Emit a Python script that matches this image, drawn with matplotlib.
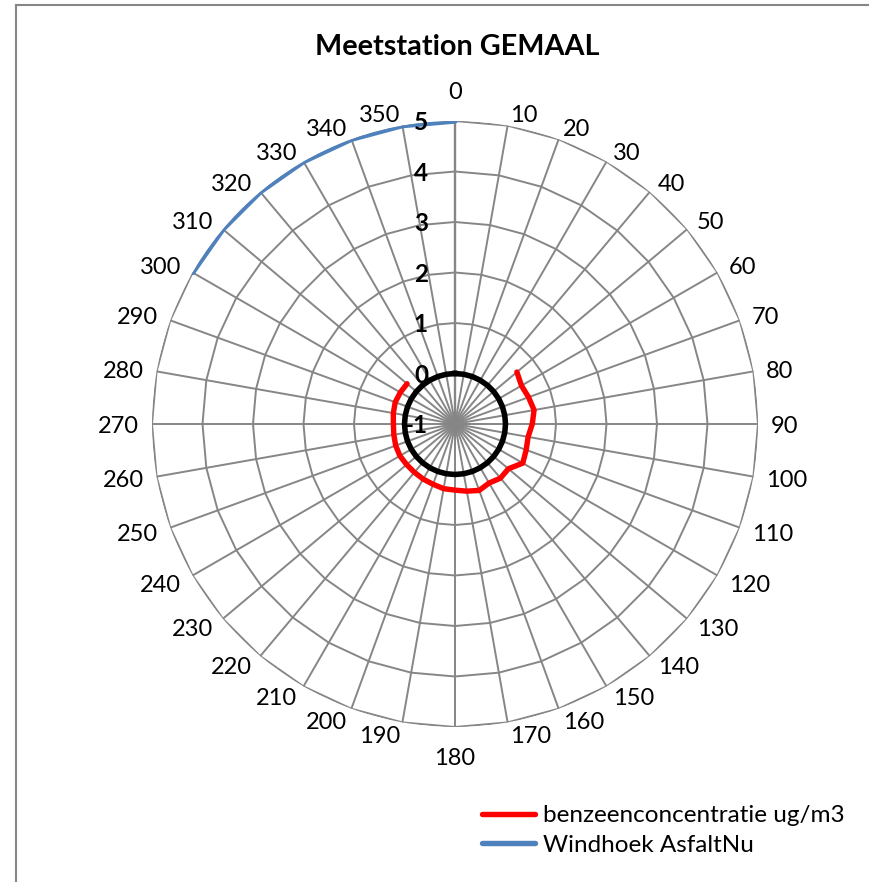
import numpy as np
import matplotlib.pyplot as plt
from matplotlib.lines import Line2D

plt.rcParams['font.family'] = ['Lato', 'DejaVu Sans']

# windrichtingen (graden) en labels
hoeken = list(range(0, 360, 10))
hoek_labels = [str(h) for h in hoeken]
r_ticks = [-1, 0, 1, 2, 3, 4, 5]

nan = np.nan
# benzeenconcentratie ug/m3 per windrichting (alleen 50..310 gemeten)
benzeen = [nan, nan, nan, nan, nan,
           0.60, 0.52, 0.55, 0.59, 0.53, 0.47, 0.50, 0.55, 0.38, 0.40,
           0.35, 0.40, 0.35, 0.31, 0.30, 0.27, 0.26, 0.25, 0.25, 0.26,
           0.25, 0.23, 0.22, 0.24, 0.26, 0.25, 0.24,
           nan, nan, nan, nan]
# Windhoek AsfaltNu
windhoek = [5] + [nan] * 29 + [5, 5, 5, 5, 5, 5]
# nullijn (zwarte cirkel, niet in legenda)
nullijn = [0] * 36

grijs = '#868686'

fig = plt.figure(figsize=(8.7, 8.82), dpi=100)
ax = fig.add_axes([152 / 870, 155 / 882, 606 / 870, 606 / 882], projection='polar')
ax.set_theta_zero_location('N')
ax.set_theta_direction(-1)
ax.set_ylim(-1, 5)
ax.set_axis_off()

theta = np.deg2rad(hoeken + [360])


def dicht(waarden):
    return list(waarden) + [waarden[0]]


# rasterlijnen (36-hoeken) en spaken
for r in r_ticks[1:]:
    ax.plot(theta, [r] * len(theta), color=grijs, lw=1.4, zorder=1)
for h in hoeken:
    ax.plot([np.deg2rad(h)] * 2, [-1, 5], color=grijs, lw=1.7 if h == 0 else 1.4, zorder=1)

ax.plot(theta, dicht(nullijn), color='black', lw=4.0, zorder=3)
lijn_b, = ax.plot(theta, dicht(benzeen), color='#FF0000', lw=3.9, zorder=4,
                  solid_capstyle='round', solid_joinstyle='round')
lijn_w, = ax.plot(theta, dicht(windhoek), color='#4F81BD', lw=3.9, zorder=4,
                  solid_capstyle='round', solid_joinstyle='round')

# categorie labels rond de grafiek
fs = 17
cijfer_h = 17
for h, lab in zip(hoeken, hoek_labels):
    a = h if h <= 180 else 360 - h
    s = np.sin(np.deg2rad(h))
    if a == 0:
        ha, ox, oy = 'center', 0, 22
    elif a == 180:
        ha, ox, oy = 'center', 0, -21 - cijfer_h
    else:
        ha = 'left' if h < 180 else 'right'
        ox = 13 * s
        if a <= 60:
            oy = 5 - a / 10
        elif a <= 110:
            oy = 13 * np.cos(np.deg2rad(a)) - cijfer_h / 2
        else:
            oy = -(cijfer_h + (a - 130) / 10)
    ax.annotate(lab, xy=(np.deg2rad(h), 5), xytext=(ox, oy), textcoords='offset pixels',
                ha=ha, va='baseline', fontsize=fs, annotation_clip=False, zorder=6)

# waarden-as labels
for r in r_ticks:
    ax.annotate(str(r), xy=(0, r), xytext=(-27, -9), textcoords='offset pixels',
                ha='right', va='baseline', fontsize=17.5, fontweight='bold',
                annotation_clip=False, zorder=6)

fig.text(457 / 870, 1 - 47 / 882, 'Meetstation GEMAAL', ha='center', va='center',
         fontsize=20.7, fontweight='bold')

fig.legend([lijn_b, lijn_w], ['benzeenconcentratie ug/m3', 'Windhoek AsfaltNu'],
           loc='upper left', bbox_to_anchor=(482 / 870, 1 - 805 / 882),
           frameon=False, fontsize=17.5, handlelength=2.2, handletextpad=0.32,
           labelspacing=0.36, borderpad=0, borderaxespad=0)

# kader
fig.add_artist(Line2D([16.5 / 870, 16.5 / 870], [0, 1 - 4.5 / 882], color=grijs, lw=1.5))
fig.add_artist(Line2D([16.5 / 870, 1], [1 - 4.5 / 882, 1 - 4.5 / 882], color=grijs, lw=1.5))

fig.savefig('out.png', dpi=100)
